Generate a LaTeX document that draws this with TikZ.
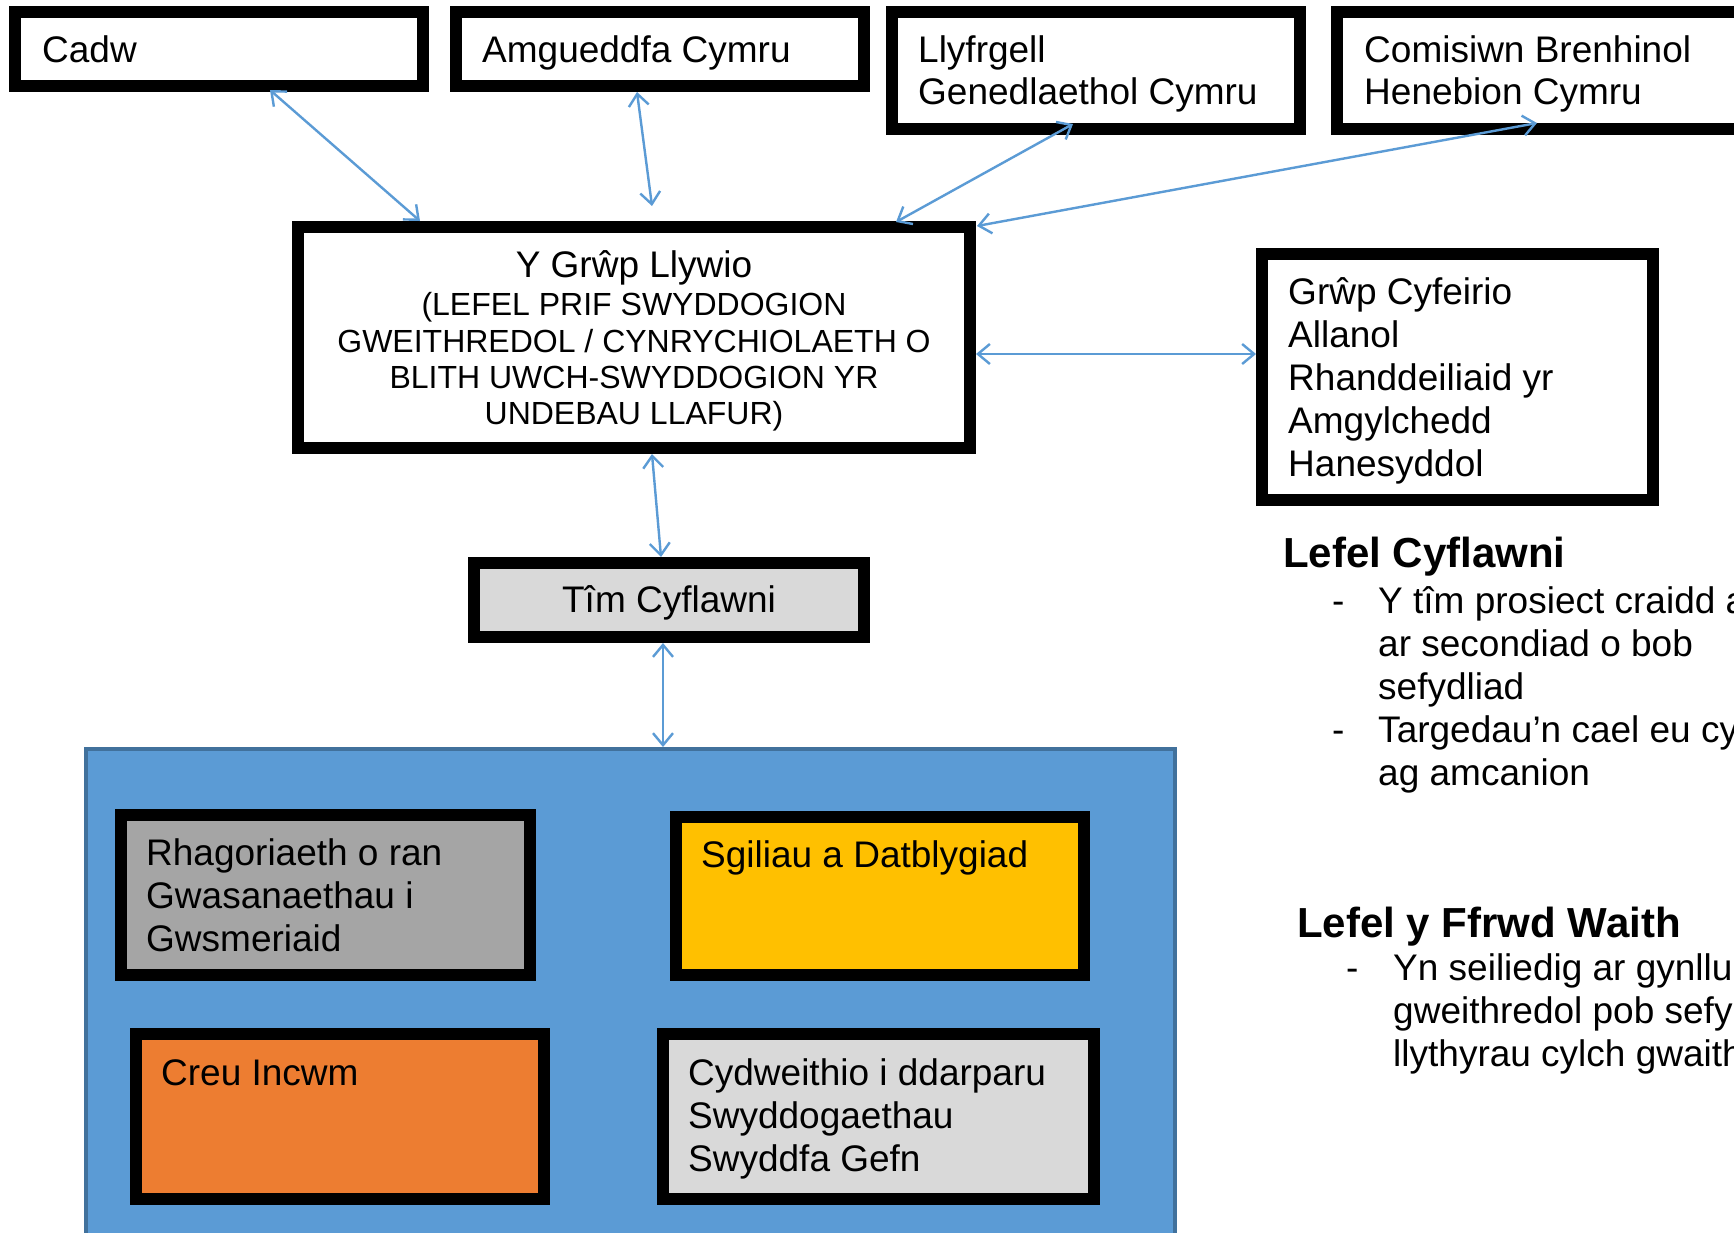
\documentclass[tikz,border=0pt]{standalone}
\usepackage{fontspec}
\setmainfont{Liberation Sans}
\usetikzlibrary{arrows.meta}
\definecolor{arrowblue}{HTML}{5B9BD5}
\definecolor{panelblue}{HTML}{5B9BD5}
\definecolor{paneledge}{HTML}{41719C}
\definecolor{midgray}{HTML}{A5A5A5}
\definecolor{lightgray}{HTML}{D9D9D9}
\definecolor{gold}{HTML}{FFC000}
\definecolor{orangebox}{HTML}{ED7D31}
\tikzset{
  bbox/.style={draw=black, line width=12pt, fill=white, rectangle, inner sep=0pt},
  txt/.style={anchor=base west, inner sep=0pt, font=\fontsize{37pt}{43pt}\selectfont},
  ctxt/.style={anchor=base, inner sep=0pt, font=\fontsize{37pt}{43pt}\selectfont},
  capstxt/.style={anchor=base, inner sep=0pt, font=\fontsize{32pt}{36pt}\selectfont},
  headtxt/.style={anchor=base west, inner sep=0pt, font=\fontsize{42pt}{48pt}\selectfont\bfseries},
  link/.style={draw=arrowblue, line width=2.4pt,
    {Straight Barb[length=12pt,width=20pt]}-{Straight Barb[length=12pt,width=20pt]}}
}
\begin{document}
\begin{tikzpicture}[x=1pt,y=-1pt]
\useasboundingbox (0,0) rectangle (1734,1232);
\clip (0,0) rectangle (1734,1232);
\fill[white] (0,0) rectangle (1734,1232);

% top row boxes
\node[bbox, minimum width=408pt, minimum height=74pt] (cadw) at (219,49) {};
\node[bbox, minimum width=408pt, minimum height=74pt] (amg) at (660,49) {};
\node[bbox, minimum width=408pt, minimum height=117pt] (llyf) at (1096,70.5) {};
\node[bbox, minimum width=417pt, minimum height=117pt] (comis) at (1545.5,70.5) {};

\node[txt] (tcadw) at (42,62) {Cadw};
\node[txt] (tamg) at (482,62) {Amgueddfa Cymru};
\node[txt] (tllyf1) at (918,62) {Llyfrgell};
\node[txt] (tllyf2) at (918,104) {Genedlaethol Cymru};
\node[txt] (tcom1) at (1364,62) {Comisiwn Brenhinol};
\node[txt] (tcom2) at (1364,104) {Henebion Cymru};

% steering group
\node[bbox, minimum width=672pt, minimum height=221pt] (steer) at (634,337.5) {};
\node[ctxt] (tst0) at (634,277) {Y Grŵp Llywio};
\node[capstxt] (tst1) at (634,315) {(LEFEL PRIF SWYDDOGION};
\node[capstxt] (tst2) at (634,352) {GWEITHREDOL / CYNRYCHIOLAETH O};
\node[capstxt] (tst3) at (634,388) {BLITH UWCH-SWYDDOGION YR};
\node[capstxt] (tst4) at (634,424) {UNDEBAU LLAFUR)};

% reference group
\node[bbox, minimum width=391pt, minimum height=246pt] (cyf) at (1457.5,377) {};
\node[txt] (tcy1) at (1288,304) {Grŵp Cyfeirio};
\node[txt] (tcy2) at (1288,347) {Allanol};
\node[txt] (tcy3) at (1288,390) {Rhanddeiliaid yr};
\node[txt] (tcy4) at (1288,433) {Amgylchedd};
\node[txt] (tcy5) at (1288,476) {Hanesyddol};

% delivery team
\node[bbox, fill=lightgray, minimum width=390pt, minimum height=74pt] (tim) at (669,600) {};
\node[ctxt] (ttim) at (669,612) {Tîm Cyflawni};

% blue panel
\node[draw=paneledge, line width=4pt, fill=panelblue, rectangle, inner sep=0pt,
      minimum width=1089pt, minimum height=501pt] (panel) at (630.5,999.5) {};

\node[bbox, fill=midgray, minimum width=409pt, minimum height=160pt] (rhag) at (325.5,895) {};
\node[txt] (trh1) at (146,865) {Rhagoriaeth o ran};
\node[txt] (trh2) at (146,908) {Gwasanaethau i};
\node[txt] (trh3) at (146,951) {Gwsmeriaid};

\node[bbox, fill=gold, minimum width=408pt, minimum height=158pt] (sgil) at (880,896) {};
\node[txt] (tsg) at (701,867) {Sgiliau a Datblygiad};

\node[bbox, fill=orangebox, minimum width=408pt, minimum height=165pt] (creu) at (340,1116.5) {};
\node[txt] (tcr) at (161,1085) {Creu Incwm};

\node[bbox, fill=lightgray, minimum width=431pt, minimum height=165pt] (cydw) at (878.5,1116.5) {};
\node[txt] (tcd1) at (688,1085) {Cydweithio i ddarparu};
\node[txt] (tcd2) at (688,1128) {Swyddogaethau};
\node[txt] (tcd3) at (688,1171) {Swyddfa Gefn};

% right-hand notes
\node[headtxt] (h1) at (1283,567) {Lefel Cyflawni};
\node[txt] (d1) at (1332,613) {-};
\node[txt] (l11) at (1378,613) {Y tîm prosiect craidd a};
\node[txt] (l12) at (1378,656) {ar secondiad o bob};
\node[txt] (l13) at (1378,699) {sefydliad};
\node[txt] (d2) at (1332,742) {-};
\node[txt] (l14) at (1378,742) {Targedau’n cael eu cy};
\node[txt] (l15) at (1378,785) {ag amcanion};

\node[headtxt] (h2) at (1297,937) {Lefel y Ffrwd Waith};
\node[txt] (d3) at (1346,980) {-};
\node[txt] (l21) at (1393,980) {Yn seiliedig ar gynllu};
\node[txt] (l22) at (1393,1023) {gweithredol pob sefy};
\node[txt] (l23) at (1393,1066) {llythyrau cylch gwaith};

% connector end points
\coordinate (c1a) at (270,90);
\coordinate (c1b) at (420,221);
\coordinate (c2a) at (637,92);
\coordinate (c2b) at (652,206);
\coordinate (c3a) at (1073,124);
\coordinate (c3b) at (896,222);
\coordinate (c4a) at (1537,123);
\coordinate (c4b) at (977,226);

\draw[link] (c1a) -- (c1b);
\draw[link] (c2a) -- (c2b);
\draw[link] (c3a) -- (c3b);
\draw[link] (c4a) -- (c4b);
\draw[link] (steer.east |- 0,354) -- (cyf.west |- 0,354);
\draw[link] (652,0 |- steer.south) -- (661,0 |- tim.north);
\draw[link] (663,0 |- tim.south) -- (663,0 |- panel.north);
\end{tikzpicture}
\end{document}
